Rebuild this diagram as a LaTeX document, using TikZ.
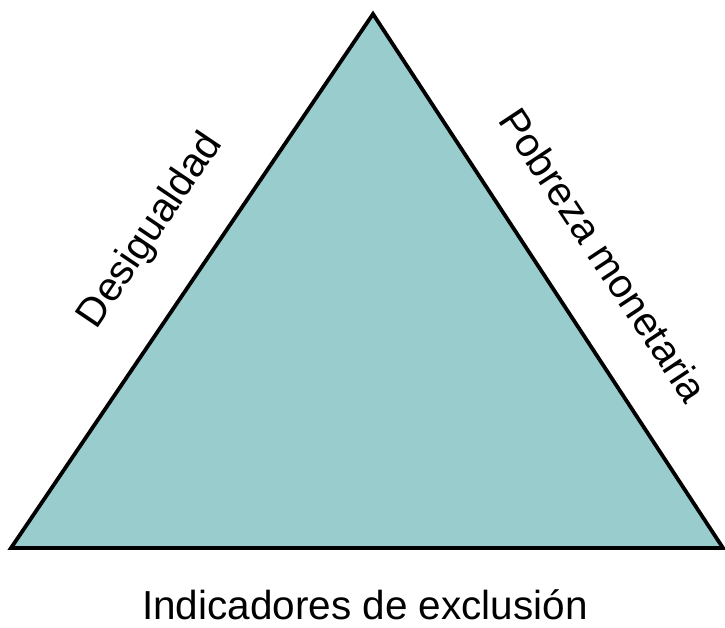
\documentclass[tikz,border=0pt]{standalone}
\usepackage{fontspec}
\setmainfont{Liberation Sans}
\definecolor{tri}{HTML}{99CCCC}
\begin{document}
\begin{tikzpicture}[x=1pt,y=1pt,
  lbl/.style={inner sep=0pt,font=\fontsize{40.5}{48}\selectfont}]
\useasboundingbox (0,0) rectangle (725,627);
\coordinate (A) at (373,613);
\coordinate (B) at (11,79);
\coordinate (C) at (723,79);
\draw[fill=tri,line width=3.8pt,line join=miter] (A) -- (B) -- (C) -- cycle;
\node[lbl,rotate=56] (des) at (151,396) {Desigualdad};
\node[lbl,rotate=-56.5] (pob) at (604,372) {Pobreza monetaria};
\node[lbl,anchor=base] (ind) at (365,8) {Indicadores de exclusión};
\end{tikzpicture}
\end{document}
